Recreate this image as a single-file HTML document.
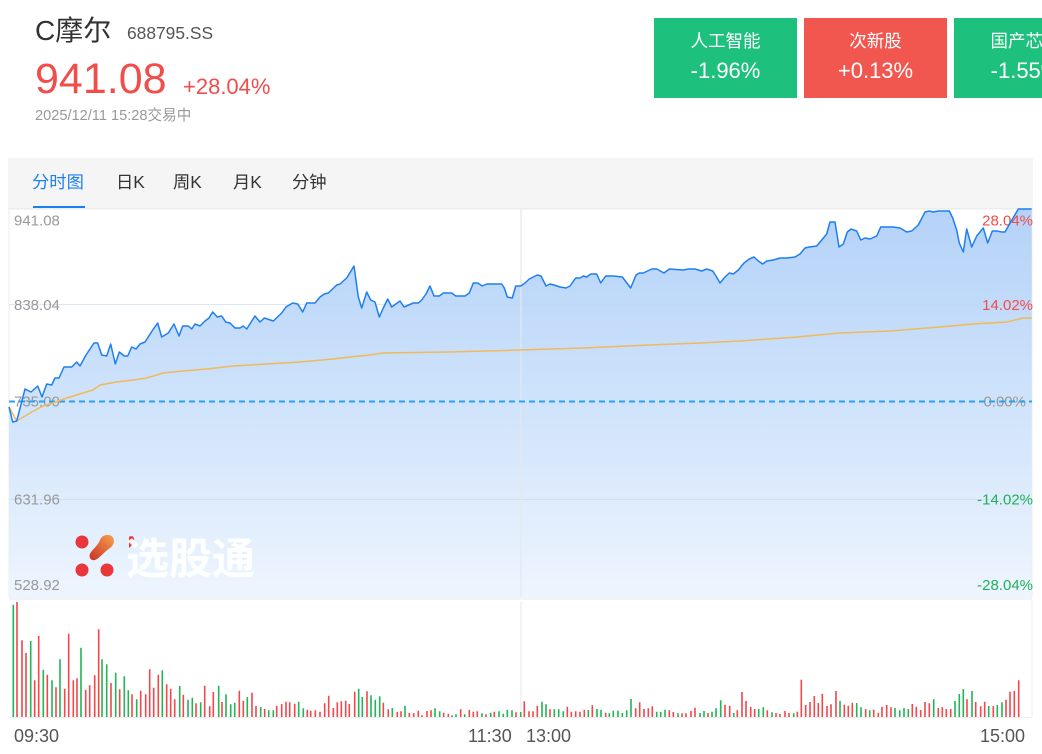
<!DOCTYPE html>
<html><head><meta charset="utf-8">
<style>
html,body{margin:0;padding:0;background:#fff;}
body{width:1042px;height:754px;overflow:hidden;position:relative;font-family:"Liberation Sans","Noto Sans CJK SC",sans-serif;}
.abs{position:absolute;white-space:nowrap;}
.card{position:absolute;top:18px;width:143px;height:80px;color:#fff;text-align:center;}
.card .l{position:absolute;left:0;right:0;top:23px;font-size:17.5px;line-height:20px;transform:translateY(-50%);}
.card .v{position:absolute;left:0;right:0;top:53px;font-size:22px;line-height:24px;transform:translateY(-50%);}
.tab{position:absolute;top:171px;font-size:17.3px;line-height:22px;color:#333;}
</style></head><body>
<div class="abs" style="left:35px;top:13px;font-size:28px;line-height:36px;color:#333;">C摩尔</div>
<div class="abs" style="left:127px;top:22px;font-size:17.4px;line-height:22px;color:#555;">688795.SS</div>
<div class="abs" style="left:35px;top:55px;font-size:43px;line-height:48px;color:#f04d4b;">941.08</div>
<div class="abs" style="left:183px;top:74px;font-size:22px;line-height:26px;color:#f04d4b;">+28.04%</div>
<div class="abs" style="left:35px;top:107px;font-size:14.6px;line-height:18px;color:#999;">2025/12/11 15:28交易中</div>

<div class="card" style="left:654px;background:#1dc07c;"><div class="l">人工智能</div><div class="v">-1.96%</div></div>
<div class="card" style="left:804px;background:#f2574f;"><div class="l">次新股</div><div class="v">+0.13%</div></div>
<div class="card" style="left:954px;background:#1dc07c;"><div class="l">国产芯片</div><div class="v">-1.55%</div></div>

<div class="abs" style="left:8px;top:158px;width:1025px;height:50px;background:#f5f5f5;border-bottom:1px solid #ececec;"></div>
<div class="tab" style="left:32px;color:#1e80f0;">分时图</div>
<div class="abs" style="left:33px;top:206px;width:52px;height:2px;background:#1e80f0;"></div>
<div class="tab" style="left:116px;">日K</div>
<div class="tab" style="left:173px;">周K</div>
<div class="tab" style="left:233px;">月K</div>
<div class="tab" style="left:292px;">分钟</div>

<svg class="abs" style="left:0;top:0;" width="1042" height="754" viewBox="0 0 1042 754">
<defs>
<linearGradient id="g" x1="0" y1="208" x2="0" y2="597" gradientUnits="userSpaceOnUse">
<stop offset="0" stop-color="#b4d2f8"/>
<stop offset="0.5" stop-color="#cfe3fb"/>
<stop offset="1" stop-color="#eef5fe"/>
</linearGradient>
<linearGradient id="lg" x1="1" y1="0" x2="0" y2="1">
<stop offset="0" stop-color="#f7a14a"/><stop offset="1" stop-color="#c9302a"/>
</linearGradient>
</defs>
<rect x="9" y="209" width="1023" height="388" fill="#fff" stroke="#ececec" stroke-width="1"/>
<polygon fill="url(#g)" points="9,407 12.7,422 16.7,421 25,389 31,392 37.7,386 42,397 46.7,384 51.7,385 55,378 59,378 64,367 71.7,367 76.7,362 80,366 86,355 94,343 97.7,343 101.7,355 106.7,356 110.7,344 115.3,364 119.3,352 124.3,356 127.7,356 131.7,347 136,349 140,344 145,342 152.7,330 157.7,323 161.7,337 168.3,333 174,324 179,336 182.7,326 188.3,326 191.7,329 195,324 200,326 205,321 209,318 212.7,312 217.3,317 221.7,316 225.7,322 230,323 235,328 240,328 243.3,326 246.7,329 255,316 260,322 264.3,318 273.3,321 281.7,313 286,307 292.7,303 297.7,304 302.7,312 306.7,303 315,303 320,297 324.3,294 328.3,293 336.7,285 340,284 346.7,278 354,266 358.3,297 361.7,308 366.7,292 370.7,300 375,302 379.3,317 383.3,308 387.7,299 391.7,307 400,301 404,307 413.3,303 418.3,303 421.7,300 426,294 430,286 434,296 439.3,296 443.3,293 451.7,293 455.7,296 465,296 469.3,293 473.3,283 477.7,283 482.3,286 486.7,284 501.7,284 504.3,288 507.3,297 512.3,298 515.7,286 520.7,286 525,283 529.3,279 533.3,277 537.3,275 541,276 546,286 550,284 554,285 560,287 566,288 570,286 575.7,278 580,278 583.3,276 586.7,277 590.7,274 596.7,274 600.7,283 605.7,276 613.3,276 622.3,277 630.7,288 636,275 639.3,273 643.3,273 651.7,269 656.7,269 664,273 669.3,269 683.3,270 688.3,269 695,269 701.7,271 706.7,269 712.7,271 716,276 720,283 725,277 729.3,273 733.3,274 738.3,270 744,263 749.3,259 754,257 758.3,261 762.7,264 766.7,261 773.3,260 780,258 786.7,258 795,257 800,254 805,248 809.3,247 816.7,246 821.7,240 826.7,234 830,222 835,222 839,247 843.3,244 847.3,232 851,229 856.7,231 860.7,240 865,238 870,239 876.7,236 880.7,227 893.3,227 900,228 906.7,232 911.7,231 918.3,225 925,212 929.3,211 933.3,212 938.3,211 949.3,211 952.7,218 956.7,230 959.3,243 963.3,252 966.7,229 971.7,247 976.7,236 983.3,228 987.7,243 992.3,231 996.7,231 1001.7,232 1005,232 1010.7,222 1018.3,209 1031.7,209 1031.7,597 9,597"/>
<line x1="9" y1="304.5" x2="1032" y2="304.5" stroke="#c5d6ec" stroke-opacity="0.6" stroke-width="1"/>
<line x1="9" y1="499.5" x2="1032" y2="499.5" stroke="#d2e0f0" stroke-width="1"/>
<line x1="521" y1="209" x2="521" y2="597" stroke="#e4e8ee" stroke-width="1.2"/>
<g font-size="15" fill="#999" font-family="Liberation Sans, sans-serif">
<text x="14" y="225.5">941.08</text>
<text x="14" y="310">838.04</text>
<text x="14" y="406.5">735.00</text>
<text x="14" y="504.5">631.96</text>
<text x="14" y="590">528.92</text>
</g>
<g font-size="15" text-anchor="end" font-family="Liberation Sans, sans-serif">
<text x="1033" y="225.5" fill="#f04d4b">28.04%</text>
<text x="1033" y="310" fill="#f04d4b">14.02%</text>
<text x="1026" y="406.5" fill="#999">0.00%</text>
<text x="1033" y="504.5" fill="#1fb15a">-14.02%</text>
<text x="1033" y="590" fill="#1fb15a">-28.04%</text>
</g>
<line x1="9" y1="401.5" x2="1032" y2="401.5" stroke="#2aa2f2" stroke-width="2" stroke-dasharray="6,4"/>
<!-- watermark -->
<g>
<circle cx="82" cy="542" r="6.5" fill="#e8363a"/>
<circle cx="82" cy="570" r="6.5" fill="#e8363a"/>
<circle cx="107" cy="570" r="6.5" fill="#e8363a"/>
<path d="M108,535 C115,535 116,544 110,548 C104,552 100,558 95,560 C90,561 88,556 91,552 C95,547 98,545 100,540 C102,536 104,535 108,535 Z" fill="url(#lg)"/>
<path d="M129,537 C133,534 136,539 133,544 L129,548 Z" fill="#e8363a"/>
<text x="126" y="574" font-size="43" font-weight="bold" fill="#fff" fill-opacity="0.95" font-family="Noto Sans CJK SC, sans-serif">选股通</text>
</g>
<polyline fill="none" stroke="#f0b95a" stroke-width="1.5" points="9,407 16.7,421 31.7,412 43.3,406 53,403 66.7,398 83,393 93,390 100,385 116.7,382 133,380 146.7,378 163,373 183,371 206.7,369 233,366 266.7,364 300,362 333,359 350,357 370,355 383,353 450,352 520,350 583,348 650,345 700,343 740,341 797,337 840,333 890,331 940,327 973,324 1007,322 1023,318 1032,318"/>
<polyline fill="none" stroke="#1e7ff0" stroke-width="1.5" stroke-linejoin="round" points="9,407 12.7,422 16.7,421 25,389 31,392 37.7,386 42,397 46.7,384 51.7,385 55,378 59,378 64,367 71.7,367 76.7,362 80,366 86,355 94,343 97.7,343 101.7,355 106.7,356 110.7,344 115.3,364 119.3,352 124.3,356 127.7,356 131.7,347 136,349 140,344 145,342 152.7,330 157.7,323 161.7,337 168.3,333 174,324 179,336 182.7,326 188.3,326 191.7,329 195,324 200,326 205,321 209,318 212.7,312 217.3,317 221.7,316 225.7,322 230,323 235,328 240,328 243.3,326 246.7,329 255,316 260,322 264.3,318 273.3,321 281.7,313 286,307 292.7,303 297.7,304 302.7,312 306.7,303 315,303 320,297 324.3,294 328.3,293 336.7,285 340,284 346.7,278 354,266 358.3,297 361.7,308 366.7,292 370.7,300 375,302 379.3,317 383.3,308 387.7,299 391.7,307 400,301 404,307 413.3,303 418.3,303 421.7,300 426,294 430,286 434,296 439.3,296 443.3,293 451.7,293 455.7,296 465,296 469.3,293 473.3,283 477.7,283 482.3,286 486.7,284 501.7,284 504.3,288 507.3,297 512.3,298 515.7,286 520.7,286 525,283 529.3,279 533.3,277 537.3,275 541,276 546,286 550,284 554,285 560,287 566,288 570,286 575.7,278 580,278 583.3,276 586.7,277 590.7,274 596.7,274 600.7,283 605.7,276 613.3,276 622.3,277 630.7,288 636,275 639.3,273 643.3,273 651.7,269 656.7,269 664,273 669.3,269 683.3,270 688.3,269 695,269 701.7,271 706.7,269 712.7,271 716,276 720,283 725,277 729.3,273 733.3,274 738.3,270 744,263 749.3,259 754,257 758.3,261 762.7,264 766.7,261 773.3,260 780,258 786.7,258 795,257 800,254 805,248 809.3,247 816.7,246 821.7,240 826.7,234 830,222 835,222 839,247 843.3,244 847.3,232 851,229 856.7,231 860.7,240 865,238 870,239 876.7,236 880.7,227 893.3,227 900,228 906.7,232 911.7,231 918.3,225 925,212 929.3,211 933.3,212 938.3,211 949.3,211 952.7,218 956.7,230 959.3,243 963.3,252 966.7,229 971.7,247 976.7,236 983.3,228 987.7,243 992.3,231 996.7,231 1001.7,232 1005,232 1010.7,222 1018.3,209 1031.7,209"/>
<!-- volume -->
<rect x="9" y="597" width="1023" height="3" fill="#f0f3f7"/>
<line x1="521" y1="602" x2="521" y2="717" stroke="#e8ebef" stroke-width="1.2"/>
<line x1="1032" y1="600" x2="1032" y2="717" stroke="#eeeeee" stroke-width="1"/>
<line x1="9" y1="717.5" x2="1032" y2="717.5" stroke="#eeeeee" stroke-width="1"/>
<path stroke="#22b457" stroke-width="1.6" fill="none" d="M13.3 717v-112.3M30.7 717v-76M43.3 717v-47.3M52 717v-36.7M60 717v-57.7M81 717v-69.3M102 717v-57.7M106.7 717v-52.7M115.7 717v-44.3M124.3 717v-40.7M128.3 717v-26.7M136.7 717v-17.7M162.3 717v-46.7M179.7 717v-31M188 717v-17.3M192.3 717v-19.3M200.7 717v-14.7M218.7 717v-31.3M226 717v-22.7M230.7 717v-12.7M234.7 717v-14.3M247.3 717v-20M260.7 717v-10M268.7 717v-6.7M273.3 717v-6.7M298.7 717v-15.3M303.3 717v-8.7M358.7 717v-28.3M362.3 717v-20M371 717v-21.7M375.3 717v-17.3M379.7 717v-20.7M392.3 717v-9M405 717v-11.3M435 717v-8.7M439.7 717v-5.7M452 717v-1.7M456 717v-2.7M464.7 717v-2.7M482 717v-3.7M490.7 717v-4.3M499 717v-5.7M503.3 717v-3.3M507.3 717v-7.3M512 717v-6.7M520.7 717v-5M542 717v-15.3M546 717v-12.7M554.3 717v-7.7M558.7 717v-7.7M563.3 717v-5.7M588.3 717v-7M597 717v-8M601 717v-7.3M609.3 717v-3.7M613.3 717v-6.3M618 717v-6.3M622.3 717v-4M626.7 717v-6.7M631 717v-18M656.7 717v-5.3M660.7 717v-5M665 717v-7.3M678 717v-3.7M700 717v-4M704 717v-6M712 717v-5.3M716 717v-8.7M720.7 717v-16.7M733.7 717v-4M758.7 717v-8M763.3 717v-9.7M772 717v-4.7M793.7 717v-3.7M840 717v-16M856.7 717v-14M861 717v-9.7M869.7 717v-6.7M895 717v-9M899.7 717v-6.7M904 717v-9M908.3 717v-8M933.7 717v-17.7M955 717v-16M959.3 717v-23M963.3 717v-28M972 717v-26M988.7 717v-11M997.3 717v-12M1002 717v-14.7"/>
<path stroke="#f2474b" stroke-width="1.6" fill="none" d="M17 717v-115M22 717v-76.7M26 717v-64M34.7 717v-36.7M38.7 717v-81M47.3 717v-42.3M56 717v-29.7M64.7 717v-28.3M68.7 717v-83.3M73.3 717v-36.7M77 717v-38.7M85.7 717v-27.3M89.7 717v-31.7M94.7 717v-41.7M98.7 717v-87.7M111 717v-34M119.7 717v-27.7M132 717v-22.7M140.7 717v-26.3M145.7 717v-22.7M149.7 717v-47.7M153.7 717v-29.3M158.3 717v-42.3M166.7 717v-32.7M170.7 717v-28.3M174.7 717v-17.7M183.3 717v-22.3M196 717v-13.7M204.7 717v-31.3M209.7 717v-10.7M213.3 717v-25M222 717v-15M239.3 717v-26.3M243.3 717v-16.3M252 717v-24.3M256 717v-11M264.7 717v-8M276.7 717v-11.3M281.7 717v-13M286 717v-15.3M289.7 717v-14.7M294.7 717v-13.3M307.3 717v-7.3M310.7 717v-6.3M315.3 717v-6.7M320 717v-5.3M324.7 717v-13.7M328.7 717v-21.3M333.3 717v-9M337.3 717v-14.7M341.3 717v-15.7M345.7 717v-16.3M349.3 717v-13M354.7 717v-25.3M367 717v-25.7M383.3 717v-14.3M388.3 717v-7.7M397.3 717v-5M401 717v-5.7M409.3 717v-4M413.7 717v-3.7M418.3 717v-6.3M422 717v-1.7M427 717v-6M431 717v-6.7M443.7 717v-4.3M448.3 717v-3.3M460.7 717v-7.7M469.3 717v-7M473.3 717v-5.3M477.3 717v-5.7M486 717v-2.7M494.3 717v-5.3M516 717v-4.7M524.3 717v-15.7M529 717v-5.7M533 717v-5.7M537.3 717v-11.3M550 717v-7.7M567.3 717v-10.3M571.3 717v-5.3M575.7 717v-5.7M580 717v-5.3M584.3 717v-7.3M592.3 717v-11.7M605.7 717v-4.3M635.7 717v-8.7M639.7 717v-14.7M644 717v-8M648.3 717v-8.7M652.3 717v-10.7M669.3 717v-6.7M673.3 717v-5M682 717v-3.7M686 717v-3.7M691 717v-6M695 717v-9.3M708 717v-4M725 717v-12.3M729.7 717v-11.3M737.3 717v-6.7M742 717v-25M746 717v-16M750.7 717v-10M754.7 717v-8M767.3 717v-6.7M776 717v-4M780 717v-3M785 717v-6M789 717v-4M797.3 717v-5.3M801.3 717v-37.3M805.7 717v-12M810 717v-15M814.3 717v-21M818.3 717v-14M822.3 717v-23.3M827 717v-11M831 717v-12.7M836 717v-26M844.3 717v-12.3M848.3 717v-11.3M852.3 717v-14.3M865.7 717v-8M873.7 717v-7.3M878.3 717v-4.3M882 717v-10.3M886.7 717v-12M891 717v-9.7M912.3 717v-13M916.3 717v-10.3M920.7 717v-7M925 717v-15M929.3 717v-13.7M938.3 717v-9M942.3 717v-9.7M946.3 717v-8M950.7 717v-8M967 717v-17.7M975.7 717v-15M980.7 717v-10.7M984.7 717v-15.3M993.3 717v-11M1006 717v-17.3M1010 717v-25.3M1014.3 717v-26M1018.7 717v-36.7"/>
<g font-size="18" fill="#555" font-family="Liberation Sans, sans-serif">
<text x="14" y="742">09:30</text>
<text x="468" y="742">11:30</text>
<text x="526" y="742">13:00</text>
<text x="980" y="742">15:00</text>
</g>
</svg>
</body></html>
